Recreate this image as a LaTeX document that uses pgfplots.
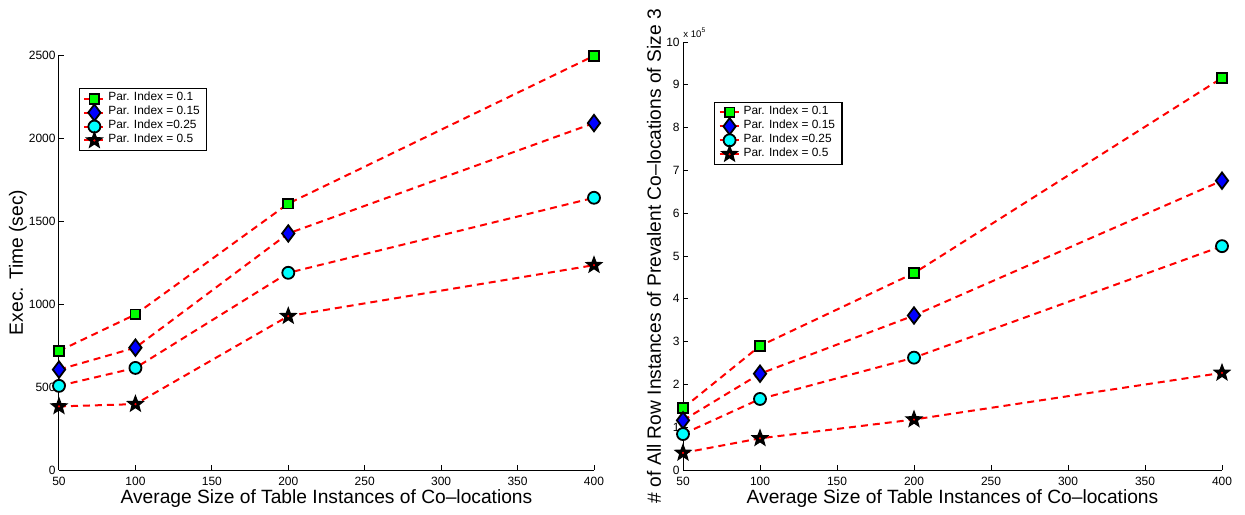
\documentclass[border=0pt]{standalone}
\usepackage{fontspec}
\setmainfont{Liberation Sans}
\usepackage{pgfplots}
\pgfplotsset{compat=1.18}
\usetikzlibrary{plotmarks}
\definecolor{mgreen}{RGB}{0,255,0}
\definecolor{mblue}{RGB}{0,0,255}
\definecolor{mcyan}{RGB}{0,255,255}
\definecolor{mred}{RGB}{255,0,0}

\pgfdeclareplotmark{pstar}{%
  \pgfpathmoveto{\pgfpointpolar{90}{\pgfplotmarksize}}%
  \pgfpathlineto{\pgfpointpolar{126}{0.42\pgfplotmarksize}}%
  \pgfpathlineto{\pgfpointpolar{162}{\pgfplotmarksize}}%
  \pgfpathlineto{\pgfpointpolar{198}{0.42\pgfplotmarksize}}%
  \pgfpathlineto{\pgfpointpolar{234}{\pgfplotmarksize}}%
  \pgfpathlineto{\pgfpointpolar{270}{0.42\pgfplotmarksize}}%
  \pgfpathlineto{\pgfpointpolar{306}{\pgfplotmarksize}}%
  \pgfpathlineto{\pgfpointpolar{342}{0.42\pgfplotmarksize}}%
  \pgfpathlineto{\pgfpointpolar{18}{\pgfplotmarksize}}%
  \pgfpathlineto{\pgfpointpolar{54}{0.42\pgfplotmarksize}}%
  \pgfpathclose
  \pgfusepathqfillstroke
  \begin{pgfscope}%
  \pgfsetfillcolor{mred}%
  \pgfpathcircle{\pgfpointorigin}{0.15\pgfplotmarksize}%
  \pgfusepathqfill
  \end{pgfscope}%
}

\pgfplotsset{
  myaxis/.style={
    scale only axis,
    axis x line*=bottom, axis y line*=left,
    axis line style={black, line width=0.5pt, -},
    tick style={black, line width=0.5pt},
    tick align=inside, major tick length=2.5pt,
    xmin=50, xmax=400, xtick={50,100,150,200,250,300,350,400},
    clip=false,
    tick label style={font=\fontsize{6}{6}\selectfont},
    /pgf/number format/assume math mode=true,
    /pgf/number format/1000 sep={},
    xticklabel style={inner sep=1pt, yshift=-2.5pt},
    yticklabel style={inner sep=1.5pt},
    label style={font=\fontsize{9.6}{10}\selectfont},
    xlabel={Average Size of Table Instances of Co--locations},
    legend style={
      draw=black, line width=0.6pt, fill=white,
      font=\fontsize{5.95}{7}\selectfont,
      inner xsep=2pt, inner ysep=1.5pt,
      cells={anchor=west},
      nodes={inner xsep=1.5pt, inner ysep=0pt, text height=4.5pt, text depth=2.45pt},
    },
    legend image code/.code={%
      \draw[##1, mark=none] (0pt,0pt) -- (10pt,0pt);
      \draw[##1, overlay] plot coordinates {(5pt,0pt)};
    },
  },
  base/.style={mred, line width=1pt, dash pattern=on 3.5pt off 2.5pt},
  sq/.style={base, mark=square*, mark size=2.45pt, mark options={solid, fill=mgreen, draw=black, line width=0.9pt}},
  di/.style={base, mark=diamond*, mark size=4.1pt, mark options={solid, fill=mblue, draw=black, line width=0.9pt}},
  ci/.style={base, mark=*, mark size=3.0pt, mark options={solid, fill=mcyan, draw=black, line width=0.9pt}},
  st/.style={base, mark=pstar, mark size=4.1pt, mark options={solid, fill=black, draw=black, line width=0.6pt}},
}

\begin{document}
\begin{tikzpicture}
\useasboundingbox (0,0) rectangle (622.5pt,-257pt);

\begin{axis}[myaxis,
  at={(29.5pt,-235pt)}, anchor=south west,
  width=267.5pt, height=207.5pt,
  ymin=0, ymax=2500, ytick={0,500,1000,1500,2000,2500},
  ylabel={Exec. Time (sec)},
  ylabel style={at={(axis description cs:-0.0766,0.5)}, anchor=center},
  xlabel style={at={(axis description cs:0.5,-0.0699)}, anchor=center},
  legend style={at={(axis description cs:0.037,0.920)}, anchor=north west},
]
\addplot[sq] coordinates {(50,717) (100,937) (200,1605) (400,2495)};
\addlegendentry{Par. Index = 0.1}
\addplot[di] coordinates {(50,605) (100,737) (200,1425) (400,2090)};
\addlegendentry{Par. Index = 0.15}
\addplot[ci] coordinates {(50,507) (100,615) (200,1188) (400,1640)};
\addlegendentry{Par. Index =0.25}
\addplot[st] coordinates {(50,383) (100,397) (200,927) (400,1234)};
\addlegendentry{Par. Index = 0.5}
\end{axis}

\begin{axis}[myaxis,
  at={(341.5pt,-235pt)}, anchor=south west,
  width=269.5pt, height=214pt,
  ymin=0, ymax=10, ytick={0,1,2,3,4,5,6,7,8,9,10},
  ylabel={\# of All Row Instances of Prevalent Co--locations of Size 3},
  ylabel style={at={(axis description cs:-0.0538,0.5)}, anchor=center},
  xlabel style={at={(axis description cs:0.5,-0.0678)}, anchor=center},
  legend style={at={(axis description cs:0.0575,0.860)}, anchor=north west},
]
\addplot[sq] coordinates {(50,1.445) (100,2.90) (200,4.60) (400,9.16)};
\addlegendentry{Par. Index = 0.1}
\addplot[di] coordinates {(50,1.16) (100,2.25) (200,3.61) (400,6.76)};
\addlegendentry{Par. Index = 0.15}
\addplot[ci] coordinates {(50,0.84) (100,1.66) (200,2.625) (400,5.23)};
\addlegendentry{Par. Index =0.25}
\addplot[st] coordinates {(50,0.40) (100,0.74) (200,1.18) (400,2.27)};
\addlegendentry{Par. Index = 0.5}
\node[anchor=base west, font=\fontsize{4.8}{5}\selectfont, inner sep=0pt] at ([yshift=2.5pt]rel axis cs:0,1) {x 10\textsuperscript{5}};
\end{axis}
\end{tikzpicture}
\end{document}
